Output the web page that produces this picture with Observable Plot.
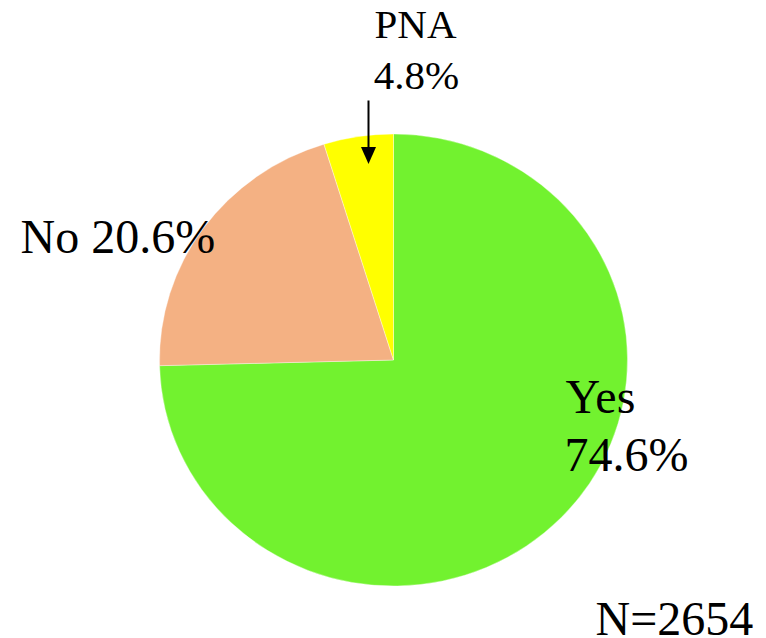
<!DOCTYPE html>
<html>
<head>
<meta charset="utf-8">
<script src="https://cdn.jsdelivr.net/npm/d3@7"></script>
<script src="https://cdn.jsdelivr.net/npm/@observablehq/plot@0.6"></script>
<style>
  html, body { margin: 0; padding: 0; background: #ffffff; }
  #chart svg { display: block; }
</style>
</head>
<body>
<div id="chart"></div>
<script>
// ---- data ----
const categories = ["Yes", "No", "PNA"];
const values = [74.6, 20.6, 4.8];
const colors = ["#72F22F", "#F4B183", "#FFFF00"];
const totalN = 2654;

// ---- layout ----
const W = 766, H = 638;
const pie = { cx: 393.5, cy: 360, rx: 234, ry: 226 };
const font = "Liberation Serif, Times New Roman, Times, serif";

const slices = categories.map((c, i) => ({ category: c, value: values[i], color: colors[i] }));

// pie render mark (d3.pie + d3.arc, drawn inside Plot)
const pieMark = (index, scales, channels, dimensions, context) => {
  const arcs = d3.pie().sort(null).value(d => d.value)(slices);
  const arc = d3.arc().innerRadius(0).outerRadius(pie.ry);
  const g = d3.create("svg:g")
    .attr("transform", `translate(${scales.x(pie.cx)},${scales.y(pie.cy)}) scale(${pie.rx / pie.ry},1)`);
  g.selectAll("path").data(arcs).join("path")
    .attr("d", arc)
    .attr("fill", d => d.data.color)
    .attr("stroke", "#ffffff")
    .attr("stroke-width", 0.6)
    .attr("stroke-opacity", 0.6);
  return g.node();
};

// labels (baseline positions)
const bigLabels = [
  { x: 20, y: 252, text: `${categories[1]} ${values[1]}%` },
  { x: 565, y: 412, text: categories[0] },
  { x: 564, y: 470, text: `${values[0]}%` },
  { x: 595, y: 634, text: `N=${totalN}` }
];
const smallLabels = [
  { x: 415, y: 37, text: categories[2] },
  { x: 416, y: 88, text: `${values[2]}%` }
];
const arrow = [{ x: 368, y1: 100, y2: 150 }];
const arrowHead = [{ x: 368, y: 155 }];

const downTriangle = {
  draw(ctx, size) {
    ctx.moveTo(-7.5, -8.5);
    ctx.lineTo(7.5, -8.5);
    ctx.lineTo(0, 8.5);
    ctx.closePath();
  }
};

const chart = Plot.plot({
  width: W,
  height: H,
  margin: 0,
  x: { type: "identity", axis: null },
  y: { type: "identity", axis: null },
  style: { background: "#ffffff", fontFamily: font },
  marks: [
    pieMark,
    Plot.link(arrow, { x1: "x", x2: "x", y1: "y1", y2: "y2", stroke: "#000000", strokeWidth: 2 }),
    Plot.dot(arrowHead, { x: "x", y: "y", symbol: downTriangle, fill: "#000000", stroke: "none", r: 5 }),
    Plot.text(bigLabels, { x: "x", y: "y", text: "text", textAnchor: "start", lineAnchor: "bottom", fontSize: 48, fill: "#000000", fontFamily: font }),
    Plot.text(smallLabels, { x: "x", y: "y", text: "text", textAnchor: "middle", lineAnchor: "bottom", fontSize: 41, fill: "#000000", fontFamily: font })
  ]
});

document.getElementById("chart").appendChild(chart);
</script>
</body>
</html>
